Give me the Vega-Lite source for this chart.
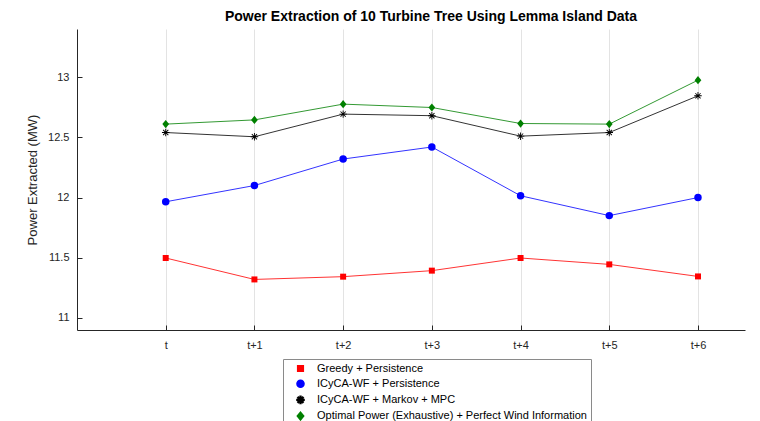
{
  "$schema": "https://vega.github.io/schema/vega-lite/v6.json",
  "width": 668,
  "height": 301,
  "autosize": {"type": "none"},
  "padding": {"left": 77, "top": 29, "right": 15, "bottom": 91},
  "background": "white",
  "config": {
    "view": {"stroke": null},
    "font": "Liberation Sans",
    "axis": {
      "domainColor": "#262626",
      "tickColor": "#262626",
      "labelColor": "#262626",
      "titleColor": "#262626",
      "labelFont": "Liberation Sans",
      "titleFont": "Liberation Sans",
      "labelFontSize": 11,
      "titleFontSize": 13,
      "titleFontWeight": "normal",
      "gridColor": "#e3e3e3",
      "gridWidth": 1
    }
  },
  "title": {
    "text": "Power Extraction of 10 Turbine Tree Using Lemma Island Data",
    "font": "Liberation Sans",
    "fontSize": 14,
    "fontWeight": "bold",
    "color": "#000000",
    "dx": 20,
    "offset": 5
  },
  "data": {
    "values": [
      {"step": 0, "series": "Greedy + Persistence", "power": 11.498},
      {"step": 1, "series": "Greedy + Persistence", "power": 11.32},
      {"step": 2, "series": "Greedy + Persistence", "power": 11.343},
      {"step": 3, "series": "Greedy + Persistence", "power": 11.393},
      {"step": 4, "series": "Greedy + Persistence", "power": 11.498},
      {"step": 5, "series": "Greedy + Persistence", "power": 11.445},
      {"step": 6, "series": "Greedy + Persistence", "power": 11.345},
      {"step": 0, "series": "ICyCA-WF + Persistence", "power": 11.965},
      {"step": 1, "series": "ICyCA-WF + Persistence", "power": 12.1},
      {"step": 2, "series": "ICyCA-WF + Persistence", "power": 12.32},
      {"step": 3, "series": "ICyCA-WF + Persistence", "power": 12.42},
      {"step": 4, "series": "ICyCA-WF + Persistence", "power": 12.015},
      {"step": 5, "series": "ICyCA-WF + Persistence", "power": 11.85},
      {"step": 6, "series": "ICyCA-WF + Persistence", "power": 12.0},
      {"step": 0, "series": "ICyCA-WF + Markov + MPC", "power": 12.54},
      {"step": 1, "series": "ICyCA-WF + Markov + MPC", "power": 12.505},
      {"step": 2, "series": "ICyCA-WF + Markov + MPC", "power": 12.693},
      {"step": 3, "series": "ICyCA-WF + Markov + MPC", "power": 12.68},
      {"step": 4, "series": "ICyCA-WF + Markov + MPC", "power": 12.51},
      {"step": 5, "series": "ICyCA-WF + Markov + MPC", "power": 12.54},
      {"step": 6, "series": "ICyCA-WF + Markov + MPC", "power": 12.845},
      {"step": 0, "series": "Optimal Power (Exhaustive) + Perfect Wind Information", "power": 12.61},
      {"step": 1, "series": "Optimal Power (Exhaustive) + Perfect Wind Information", "power": 12.645},
      {"step": 2, "series": "Optimal Power (Exhaustive) + Perfect Wind Information", "power": 12.776},
      {"step": 3, "series": "Optimal Power (Exhaustive) + Perfect Wind Information", "power": 12.748},
      {"step": 4, "series": "Optimal Power (Exhaustive) + Perfect Wind Information", "power": 12.615},
      {"step": 5, "series": "Optimal Power (Exhaustive) + Perfect Wind Information", "power": 12.61},
      {"step": 6, "series": "Optimal Power (Exhaustive) + Perfect Wind Information", "power": 12.975}
    ]
  },
  "encoding": {
    "x": {
      "field": "step",
      "type": "quantitative",
      "scale": {"domain": [-1, 6.53], "nice": false, "zero": false},
      "axis": {
        "title": null,
        "values": [0, 1, 2, 3, 4, 5, 6],
        "labelExpr": "datum.value == 0 ? 't' : 't+' + datum.value",
        "grid": true,
        "tickSize": -5,
        "labelPadding": 14
      }
    },
    "y": {
      "field": "power",
      "type": "quantitative",
      "scale": {"domain": [10.9, 13.4], "nice": false, "zero": false},
      "axis": {
        "title": "Power Extracted (MW)",
        "values": [11, 11.5, 12, 12.5, 13],
        "format": "~f",
        "grid": false,
        "tickSize": -5,
        "labelPadding": 13,
        "titlePadding": 8
      }
    },
    "color": {
      "field": "series",
      "type": "nominal",
      "scale": {
        "domain": ["Greedy + Persistence", "ICyCA-WF + Persistence", "ICyCA-WF + Markov + MPC", "Optimal Power (Exhaustive) + Perfect Wind Information"],
        "range": ["#ff0000", "#0000ff", "#000000", "#008000"]
      },
      "legend": {
        "title": null,
        "orient": "none",
        "legendX": 206,
        "legendY": 330,
        "direction": "vertical",
        "fillColor": "white",
        "strokeColor": "#8a8a8a",
        "padding": 4,
        "rowPadding": 1.2,
        "symbolOffset": 8,
        "labelOffset": 11,
        "labelFont": "Liberation Sans",
        "labelFontSize": 11,
        "labelColor": "#000000",
        "labelLimit": 400,
        "symbolSize": 50,
        "symbolOpacity": 1
      }
    }
  },
  "layer": [
    {
      "mark": {"type": "line", "strokeWidth": 1, "opacity": 0.8}
    },
    {
      "mark": {"type": "point", "filled": true, "opacity": 1, "size": 56},
      "encoding": {
        "shape": {
          "field": "series",
          "type": "nominal",
          "scale": {
            "domain": ["Greedy + Persistence", "ICyCA-WF + Persistence", "ICyCA-WF + Markov + MPC", "Optimal Power (Exhaustive) + Perfect Wind Information"],
            "range": ["M-0.8,-0.8H0.8V0.8H-0.8Z", "circle", "M-1,-0.12H1V0.12H-1ZM-0.12,-1H0.12V1H-0.12ZM-0.785,-0.615L-0.615,-0.785L0.785,0.615L0.615,0.785ZM-0.785,0.615L0.615,-0.785L0.785,-0.615L-0.615,0.785Z", "M0,-1.1L0.9,0L0,1.1L-0.9,0Z"]
          }
        }
      }
    }
  ]
}
